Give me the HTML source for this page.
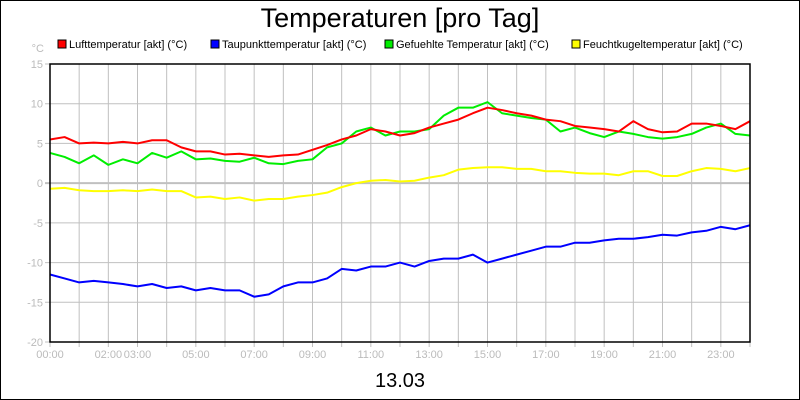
<!DOCTYPE html>
<html><head><meta charset="utf-8"><style>
body{margin:0;background:#fff}
svg{display:block;font-family:"Liberation Sans",sans-serif}
</style></head><body>
<svg id="c" width="800" height="400" viewBox="0 0 800 400">
<rect x="0.5" y="0.5" width="799" height="399" fill="#fff" stroke="#000" stroke-width="1"/>
<text x="400" y="27" font-size="27" text-anchor="middle">Temperaturen [pro Tag]</text>
<text x="44" y="52" font-size="11" fill="#bbb" text-anchor="end">°C</text>
<g id="legend"></g>
<g id="grid"></g>
<g id="series"></g>
<rect x="50" y="64" width="700" height="278" fill="none" stroke="#000" stroke-width="1.5"/>
<text x="400" y="387" font-size="20" text-anchor="middle">13.03</text>
</svg>
<script>
const hours=[];for(let i=0;i<=48;i++)hours.push(i/2);
const yTicks=[15,10,5,0,-5,-10,-15,-20];
const xTickLabels=["00:00","02:00","03:00","05:00","07:00","09:00","11:00","13:00","15:00","17:00","19:00","21:00","23:00"];
const xTickHours=[0,2,3,5,7,9,11,13,15,17,19,21,23];
const seriesNames=["Lufttemperatur [akt] (°C)","Taupunkttemperatur [akt] (°C)","Gefuehlte Temperatur [akt] (°C)","Feuchtkugeltemperatur [akt] (°C)"];
const seriesColors=["#f00","#00f","#0e0","#ff0"];
const luft=[5.5,5.8,5.0,5.1,5.0,5.2,5.0,5.4,5.4,4.5,4.0,4.0,3.6,3.7,3.5,3.3,3.5,3.6,4.2,4.8,5.5,6.0,6.8,6.5,6.0,6.3,7.0,7.5,8.0,8.8,9.5,9.2,8.8,8.5,8.0,7.8,7.2,7.0,6.8,6.5,7.8,6.8,6.4,6.5,7.5,7.5,7.2,6.8,7.8];
const taupunkt=[-11.5,-12.0,-12.5,-12.3,-12.5,-12.7,-13.0,-12.7,-13.2,-13.0,-13.5,-13.2,-13.5,-13.5,-14.3,-14.0,-13.0,-12.5,-12.5,-12.0,-10.8,-11.0,-10.5,-10.5,-10.0,-10.5,-9.8,-9.5,-9.5,-9.0,-10.0,-9.5,-9.0,-8.5,-8.0,-8.0,-7.5,-7.5,-7.2,-7.0,-7.0,-6.8,-6.5,-6.6,-6.2,-6.0,-5.5,-5.8,-5.3];
const gefuehlt=[3.8,3.3,2.5,3.5,2.3,3.0,2.5,3.8,3.2,4.0,3.0,3.1,2.8,2.7,3.2,2.5,2.4,2.8,3.0,4.5,5.0,6.5,7.0,6.0,6.5,6.5,6.8,8.5,9.5,9.5,10.2,8.8,8.5,8.2,8.0,6.5,7.0,6.3,5.8,6.5,6.2,5.8,5.6,5.8,6.2,7.0,7.5,6.2,6.0];
const feucht=[-0.7,-0.6,-0.9,-1.0,-1.0,-0.9,-1.0,-0.8,-1.0,-1.0,-1.8,-1.7,-2.0,-1.8,-2.2,-2.0,-2.0,-1.7,-1.5,-1.2,-0.5,0.0,0.3,0.4,0.2,0.3,0.7,1.0,1.7,1.9,2.0,2.0,1.8,1.8,1.5,1.5,1.3,1.2,1.2,1.0,1.5,1.5,0.9,0.9,1.5,1.9,1.8,1.5,1.9];
const NS="http://www.w3.org/2000/svg";
const X=h=>50+h*700/24;
const Y=v=>64+(15-v)*278/35;
function mk(t,a,p){const e=document.createElementNS(NS,t);for(const k in a)e.setAttribute(k,a[k]);p.appendChild(e);return e;}
const grid=document.getElementById('grid');
for(let h=1;h<24;h++){
 const l=mk('line',{x1:X(h),x2:X(h),y1:64,y2:342,stroke:'#c0c0c0','stroke-width':1},grid);
 
 
}
for(let h=0;h<=24;h++){
 const t=mk('line',{x1:X(h),x2:X(h),y1:342,y2:347,stroke:'#c0c0c0'},grid);
 
 
}
yTicks.forEach(v=>{
 const l=mk('line',{x1:45,x2:750,y1:Y(v),y2:Y(v),stroke:'#c0c0c0','stroke-width':v===0?2:1},grid);
 
 
 const t=mk('text',{x:43,y:Y(v)+4,'font-size':11,fill:'#bbb','text-anchor':'end'},grid);
 t.textContent=v;
 
 
});
xTickLabels.forEach((s,i)=>{
 const t=mk('text',{x:X(xTickHours[i]),y:358,'font-size':11,fill:'#bbb','text-anchor':'middle'},grid);
 t.textContent=s;
 
 
});
const ser=document.getElementById('series');
[[feucht,3],[taupunkt,1],[gefuehlt,2],[luft,0]].forEach(([d,ci])=>{
 const p=mk('polyline',{points:d.map((v,i)=>X(hours[i])+','+Y(v)).join(' '),fill:'none',stroke:seriesColors[ci],'stroke-width':2,'stroke-linejoin':'round'},ser);
 
 
});
const lg=document.getElementById('legend');
const lx=[58,211,385,572];
seriesNames.forEach((n,i)=>{
 const g=mk('g',{},lg);
 
 
 mk('rect',{x:lx[i],y:40,width:8,height:8,fill:seriesColors[i],stroke:'#000','stroke-width':1},g);
 const t=mk('text',{x:lx[i]+11,y:48,'font-size':11},g);
 t.textContent=n;
});
</script>
</body></html>
